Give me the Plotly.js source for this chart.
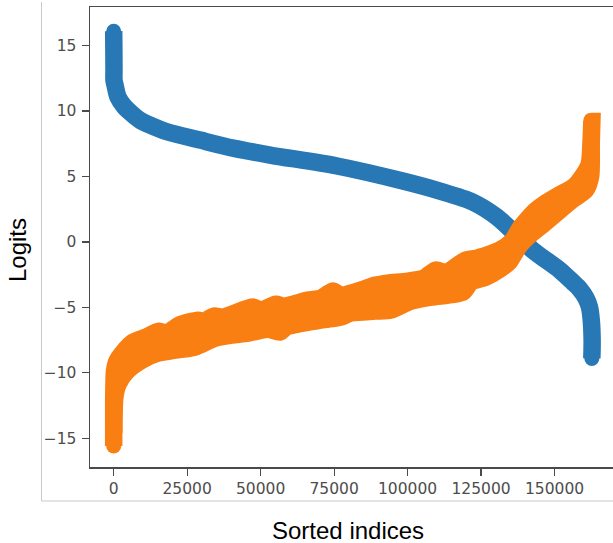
<!DOCTYPE html>
<html>
<head>
<meta charset="utf-8">
<script src="https://cdn.plot.ly/plotly-3.0.1.min.js"></script>
<style>html,body{margin:0;padding:0;background:#fff}</style>
</head>
<body>
<div id="chart" style="width:613px;height:543px"></div>
<script>
var blueX = [0,50,100,100,450,1460,3500,5900,8900,12300,18100,29400,40600,53200,76000,98400,111000,122200,130400,142600,151800,156200,158600,160700,161900,162500,162800,162700];
var blueY = [16.1,15,13.13,12.37,11.99,11.07,10.38,9.85,9.31,8.93,8.42,7.78,7.17,6.64,5.8,4.65,3.88,3.04,1.9,-0.63,-2.16,-3.07,-3.6,-4.29,-4.98,-5.97,-7.5,-8.9];
var orangeUpperX = [0,0,100,270,1100,3200,6600,11000,15400,18100,22200,28700,30700,34100,37200,47400,50100,55200,57900,66100,70500,73200,74600,77300,85100,89200,93300,100100,105500,109600,113000,114700,119800,123600,131400,135500,138500,139900,143300,146400,151500,156900,161700,162400,162700];
var orangeUpperY = [-15.6,-12.1,-10.8,-9.88,-9.11,-8.43,-7.66,-7.28,-6.82,-6.97,-6.36,-5.98,-6.05,-5.67,-5.75,-4.98,-5.21,-4.76,-4.91,-4.45,-4.3,-3.92,-3.76,-4.07,-3.61,-3.3,-3.15,-3,-2.77,-2.15,-2.38,-2.15,-1.39,-1.24,-0.62,0.06,1.13,1.51,2.35,2.89,3.58,4.27,5.87,7.55,9.2];
var orangeLowerX = [100,400,1500,4500,9600,15000,20900,27700,34500,39900,45700,52500,56600,58600,62700,72900,77300,80700,88900,94300,101100,107900,118800,121500,126600,131400,134500,137900,141600,146700,151100,155900,160600,162300,162500];
var orangeLowerY = [-14.62,-11.87,-10.87,-9.88,-9.03,-8.5,-8.27,-8.03,-7.36,-7.13,-6.97,-6.67,-6.89,-6.51,-6.28,-5.9,-5.75,-5.44,-5.29,-5.21,-4.53,-4.22,-3.84,-3.08,-2.7,-2.09,-1.55,-0.33,0.52,1.44,2.28,3.2,3.96,5.03,7.55];
var xTicks = [0,25000,50000,75000,100000,125000,150000];
var xTickLabels = ['0','25000','50000','75000','100000','125000','150000'];
var yTicks = [-15,-10,-5,0,5,10,15];
var yTickLabels = ['\u221215','\u221210','\u22125','0','5','10','15'];
var xTitle = 'Sorted indices';
var yTitle = 'Logits';

var orangePathX = orangeUpperX.concat(orangeLowerX.slice().reverse());
var orangePathY = orangeUpperY.concat(orangeLowerY.slice().reverse());

var traces = [
  {x: blueX, y: blueY, type: 'scatter', mode: 'lines+markers',
   line: {color: '#2878b5', width: 17.5, shape: 'spline', smoothing: 0.8},
   marker: {color: '#2878b5', size: 15}, hoverinfo: 'skip', showlegend: false},
  {x: orangePathX, y: orangePathY, type: 'scatter', mode: 'lines+markers', fill: 'toself',
   fillcolor: '#f97f13',
   line: {color: '#f97f13', width: 17.5, shape: 'spline', smoothing: 0.7},
   marker: {color: '#f97f13', size: 15}, hoverinfo: 'skip', showlegend: false}
];

var axisCommon = {
  showgrid: false, zeroline: false, showline: true, linecolor: '#4a4a4a', linewidth: 1.5,
  ticks: 'outside', ticklen: 7, tickwidth: 1.2, tickcolor: '#4a4a4a',
  tickfont: {family: 'DejaVu Sans', size: 15.5, color: '#4d4d4d'}
};

var layout = {
  width: 613, height: 543,
  margin: {l: 90, r: 0, t: 7, b: 76},
  paper_bgcolor: '#ffffff', plot_bgcolor: '#ffffff',
  showlegend: false,
  xaxis: Object.assign({}, axisCommon, {range: [-8060, 169900], tickmode: 'array', tickvals: xTicks, ticktext: xTickLabels, mirror: true}),
  yaxis: Object.assign({}, axisCommon, {range: [-17.2, 17.95], tickmode: 'array', tickvals: yTicks, ticktext: yTickLabels, mirror: true, ticklabelstandoff: 2}),
  shapes: [
    {type: 'line', xref: 'paper', yref: 'paper', x0: -0.0927, x1: -0.0927, y0: -0.0739, y1: 1.0109, line: {color: '#c8c8c8', width: 1}},
    {type: 'line', xref: 'paper', yref: 'paper', x0: -0.0927, x1: 1, y0: -0.0739, y1: -0.0739, line: {color: '#c8c8c8', width: 1}}
  ],
  annotations: [
    {text: xTitle, xref: 'paper', yref: 'paper', x: (348 - 90) / 523, y: (467 - 530) / 460, showarrow: false, xanchor: 'center', yanchor: 'middle',
     font: {family: 'Liberation Sans', size: 24, color: '#000000'}},
    {text: yTitle, xref: 'paper', yref: 'paper', x: (18 - 90) / 523, y: (467 - 250) / 460, showarrow: false, textangle: -90, xanchor: 'center', yanchor: 'middle',
     font: {family: 'Liberation Sans', size: 24, color: '#000000'}}
  ]
};
Plotly.newPlot('chart', traces, layout, {displayModeBar: false, staticPlot: true});
</script>
</body>
</html>
